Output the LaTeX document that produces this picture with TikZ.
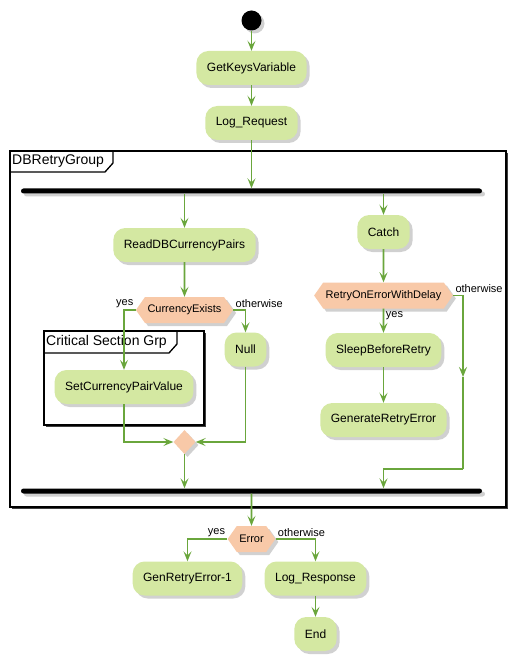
\documentclass[tikz,border=0pt]{standalone}
\usepackage{fontspec}
\setmainfont{Liberation Sans}
\usetikzlibrary{arrows.meta}
\usetikzlibrary{shapes.geometric}
\usetikzlibrary{shapes.symbols}
\usetikzlibrary{shadows}
\definecolor{vertaction}{HTML}{D4E8A2}
\definecolor{vertfleche}{HTML}{6AA63C}
\definecolor{pecheflux}{HTML}{F8C9A8}

\begin{document}
\begin{tikzpicture}[x=1pt,y=-1pt]
% définition des paramètres
\tikzstyle ombreflux=[drop shadow={shadow xshift=3pt,shadow yshift=-3pt,fill=black!30,opacity=0.6}]
\tikzstyle actionflux=[rectangle,rounded corners=12pt,fill=vertaction,minimum height=34pt,inner xsep=10.5pt,font=\fontsize{12}{14}\selectfont,ombreflux]
\tikzstyle decisionflux=[signal,signal to=west and east,signal pointer angle=110,fill=pecheflux,minimum height=26pt,inner xsep=2.5pt,inner ysep=0pt,font=\fontsize{11}{13}\selectfont,ombreflux]
\tikzstyle barreflux=[rectangle,fill=black,rounded corners=2.5pt,minimum width=461pt,minimum height=5pt,inner sep=0pt,ombreflux]
\tikzstyle flecheflux=[draw=vertfleche,line width=1.8pt,-{Stealth[length=10pt,width=8pt,inset=4pt]}]
\tikzstyle ligneflux=[draw=vertfleche,line width=1.8pt]
\tikzstyle etiquetteflux=[font=\fontsize{11}{13}\selectfont,inner sep=1.5pt]
\tikzstyle cadreflux=[draw=black,fill=white,line width=1.3pt]
\tikzstyle ombrecadre=[fill=black!75]
\newcommand{\titrecadre}{\fontsize{14}{16}\selectfont}
\useasboundingbox (0,0) rectangle (515,660);
% les cadres
\fill[ombrecadre] (12,153) rectangle (508,509);
\draw[cadreflux] (10,151) rectangle (506,507);
\draw[line width=1.3pt] (10,172) -- (105,172) -- (113,163) -- (113,151);
\node[anchor=west,inner sep=0pt] (titreretry) at (12,161.5) {\titrecadre DBRetryGroup};
\fill[ombrecadre] (46,333) rectangle (206,427);
\draw[cadreflux] (44,331) rectangle (204,425);
\draw[line width=1.3pt] (44,353) -- (169,353) -- (177,344) -- (177,331);
\node[anchor=west,inner sep=0pt] (titrecritique) at (46,342) {\titrecadre Critical Section Grp};
% les noeuds
\node[circle,fill=black,minimum size=20pt,inner sep=0pt,ombreflux] (debut) at (251.5,20.5) {};
\node[actionflux] (getkeys) at (251.5,68) {GetKeysVariable};
\node[actionflux] (logreq) at (251.5,123) {Log\_Request};
\node[barreflux] (fourche) at (251.5,191) {};
\node[actionflux] (lire) at (184.5,245) {ReadDBCurrencyPairs};
\node[actionflux] (catch) at (383.5,232) {Catch};
\node[decisionflux] (existe) at (184.5,310) {CurrencyExists};
\node[decisionflux] (retry) at (383.5,295.5) {RetryOnErrorWithDelay};
\node[actionflux] (null) at (245.5,349.5) {Null};
\node[actionflux] (setpair) at (124,387) {SetCurrencyPairValue};
\node[actionflux] (sleep) at (383.5,350) {SleepBeforeRetry};
\node[actionflux] (generr) at (383.5,420) {GenerateRetryError};
\node[diamond,fill=pecheflux,minimum width=22pt,minimum height=24pt,inner sep=0pt,ombreflux] (fusion) at (184.5,442) {};
\node[barreflux] (jointure) at (251.5,491) {};
\node[decisionflux] (erreur) at (251.5,539) {Error};
\node[actionflux] (genretry) at (187.5,578.5) {GenRetryError-1};
\node[actionflux] (logresp) at (315.5,578.5) {Log\_Response};
\node[actionflux] (fin) at (315.5,634) {End};
\coordinate (autre1) at (463,377);
\coordinate (autre2) at (463,469);
% les flèches
\draw[flecheflux] (debut) -- (getkeys);
\draw[flecheflux] (getkeys) -- (logreq);
\draw[flecheflux] (logreq) -- (fourche.north);
\draw[flecheflux] (lire |- fourche.south) -- (lire);
\draw[flecheflux] (catch |- fourche.south) -- (catch);
\draw[flecheflux] (lire) -- (existe);
\draw[flecheflux] (existe.west) -| node[pos=0,above left,etiquetteflux] {yes} (setpair);
\draw[flecheflux] (existe.east) -| node[pos=0,above right,etiquetteflux] {otherwise} (null);
\draw[flecheflux] (setpair) |- (fusion.west);
\draw[flecheflux] (null) |- (fusion.east);
\draw[flecheflux] (fusion) -- (fusion |- jointure.north);
\draw[flecheflux] (catch) -- (retry);
\draw[flecheflux] (retry) -- node[pos=0,below right,etiquetteflux] {yes} (sleep);
\draw[flecheflux] (sleep) -- (generr);
\draw[flecheflux] (retry.east) -| node[pos=0,above right,etiquetteflux] {otherwise} (autre1);
\draw[ligneflux] (autre1) -- (autre2);
\draw[flecheflux] (autre2) -| (retry |- jointure.north);
\draw[flecheflux] (jointure.south) -- (erreur);
\draw[flecheflux] (erreur.west) -| node[pos=0,above left,etiquetteflux] {yes} (genretry);
\draw[flecheflux] (erreur.east) -| node[pos=0,above right,etiquetteflux] {otherwise} (logresp);
\draw[flecheflux] (logresp) -- (fin);
\end{tikzpicture}
\end{document}
